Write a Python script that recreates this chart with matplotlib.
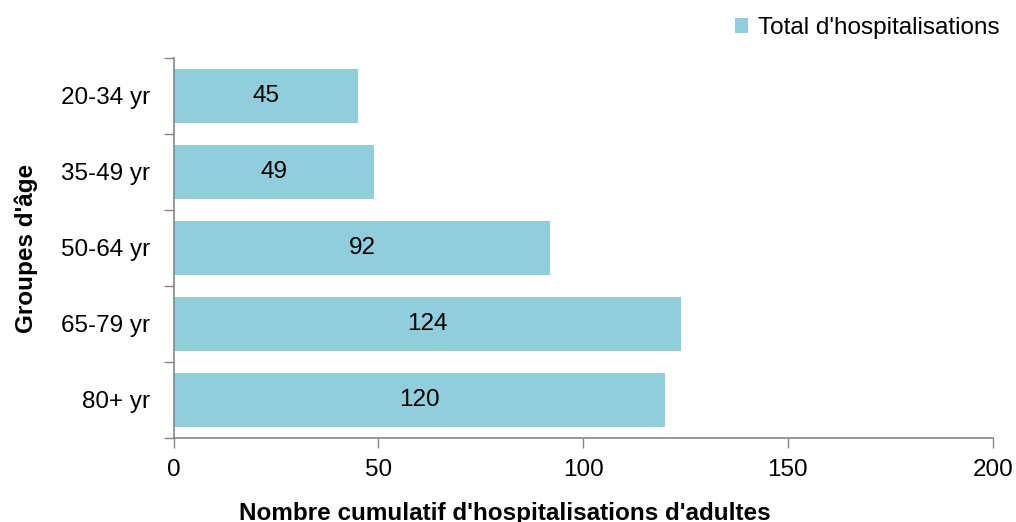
import matplotlib.pyplot as plt
import numpy as np

plt.rcParams['font.family'] = ['Liberation Sans', 'DejaVu Sans']

# data
groups = ['20-34 yr', '35-49 yr', '50-64 yr', '65-79 yr', '80+ yr']
totals = [45, 49, 92, 124, 120]
xticks = [0, 50, 100, 150, 200]

bar_color = '#92CDDC'
axis_gray = '#868686'
fs = 17.5

fig = plt.figure(figsize=(10.16, 5.22), dpi=100)
ax = fig.add_axes([0.171, 0.161, 0.806, 0.728])

pos = np.arange(len(groups))
bars = ax.barh(pos, totals, height=0.71, color=bar_color,
               label="Total d'hospitalisations")
ax.set_ylim(len(groups) - 0.5, -0.5)
ax.set_xlim(0, 200)

# value labels in the middle of each bar
for b, v in zip(bars, totals):
    ax.text(b.get_width() / 2, b.get_y() + b.get_height() / 2, str(v),
            ha='center', va='center', fontsize=fs, color='black')

ax.set_yticks(pos)
ax.set_yticklabels(groups, fontsize=fs)
ax.set_yticks(np.arange(-0.5, len(groups) + 0.5, 1), minor=True)
ax.tick_params(axis='y', which='major', length=0, pad=17)
ax.tick_params(axis='y', which='minor', length=7, color=axis_gray, width=1)

ax.set_xticks(xticks)
ax.set_xticklabels([str(t) for t in xticks], fontsize=fs)
ax.tick_params(axis='x', length=7, color=axis_gray, width=1, pad=8)

for s in ['top', 'right']:
    ax.spines[s].set_visible(False)
for s in ['left', 'bottom']:
    ax.spines[s].set_color(axis_gray)
    ax.spines[s].set_linewidth(1.2)

ax.set_xlabel("Nombre cumulatif d'hospitalisations d'adultes",
              fontsize=fs, fontweight='bold')
ax.xaxis.set_label_coords(0.404, -0.168)
ax.set_ylabel("Groupes d'âge", fontsize=fs, fontweight='bold')
ax.yaxis.set_label_coords(-0.166, 0.5)

ax.legend(loc='upper right', bbox_to_anchor=(1.035, 1.165), frameon=False,
          fontsize=fs, handlelength=0.55, handleheight=0.55, handletextpad=0.4)

fig.savefig('out.png', dpi=100)
